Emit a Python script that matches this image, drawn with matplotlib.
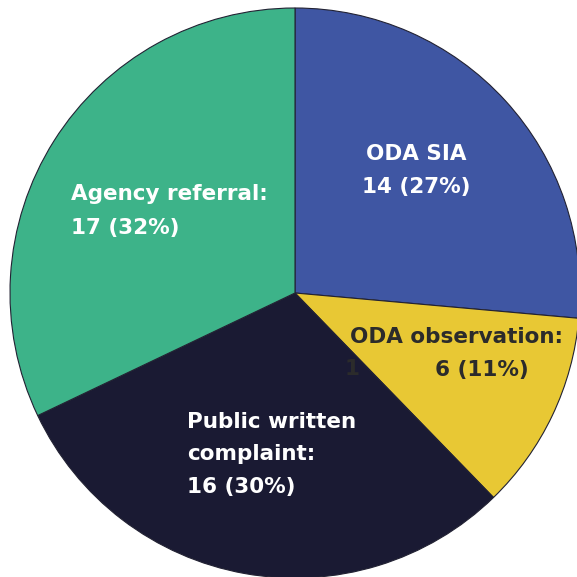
import matplotlib
matplotlib.use("Agg")
import matplotlib.pyplot as plt

categories = ["ODA SIA", "ODA observation", "Public written complaint", "Agency referral"]
counts = [14, 6, 16, 17]
percents = [27, 11, 30, 32]
colors = ["#3F56A3", "#E8C834", "#1A1A33", "#3DB389"]

H = 577
fig = plt.figure(figsize=(5.77, 5.77), dpi=100)
ax = fig.add_axes([0, 0, 1, 1])

ax.pie(counts, colors=colors, startangle=90, counterclock=False,
       center=(295, H - 293), radius=285, frame=True,
       wedgeprops=dict(edgecolor="#222233", linewidth=0.8))
ax.set_xlim(0, 577)
ax.set_ylim(0, H)
ax.set_aspect("equal")
ax.axis("off")

fp = dict(family=["DejaVu Sans"], fontweight="bold", fontsize=15.5)
white = "white"
dark = "#2B2B2B"

def t(x, y, s, c, ha):
    ax.text(x, H - y, s, color=c, ha=ha, va="baseline", **fp)

# ODA SIA
t(416, 160, categories[0], white, "center")
t(416, 193, f"{counts[0]} ({percents[0]}%)", white, "center")
# ODA observation
t(456, 343, categories[1] + ":", dark, "center")
t(482, 376, f"{counts[1]} ({percents[1]}%)", dark, "center")
t(352, 375, "1", dark, "center")
# Public written complaint
t(187, 428, "Public written", white, "left")
t(187, 460, "complaint:", white, "left")
t(187, 493, f"{counts[2]} ({percents[2]}%)", white, "left")
# Agency referral
t(71, 200, categories[3] + ":", white, "left")
t(71, 234, f"{counts[3]} ({percents[3]}%)", white, "left")

fig.savefig("out.png", dpi=100)
